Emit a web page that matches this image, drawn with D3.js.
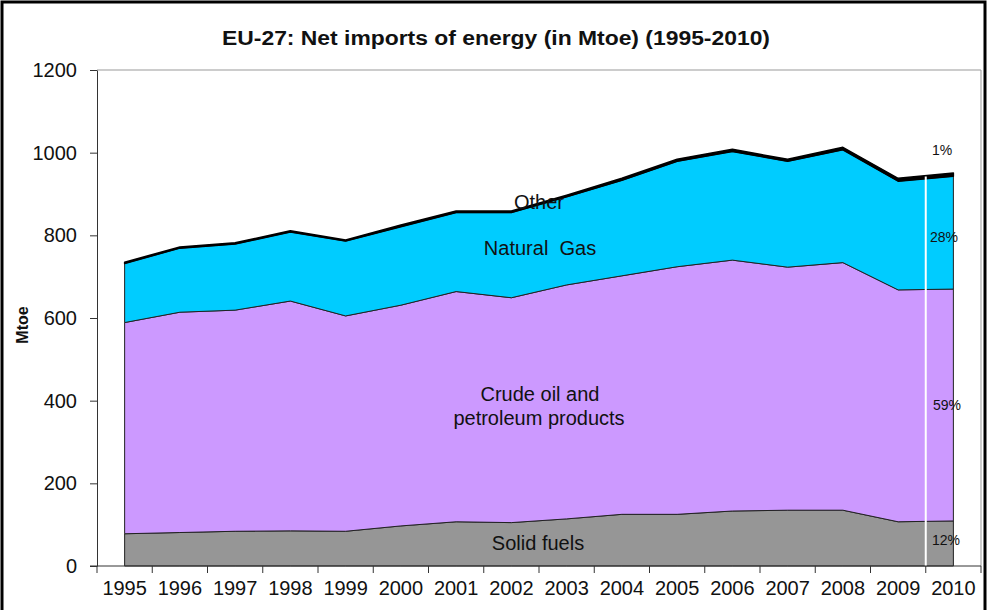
<!DOCTYPE html>
<html>
<head>
<meta charset="utf-8">
<script src="https://cdn.jsdelivr.net/npm/d3@7"></script>
<style>
  body { margin: 0; background: #fff; }
  svg text { font-family: "Liberation Sans", Arial, sans-serif; }
</style>
</head>
<body>
<div id="chart"></div>
<script>
var years = ["1995", "1996", "1997", "1998", "1999", "2000", "2001", "2002",
             "2003", "2004", "2005", "2006", "2007", "2008", "2009", "2010"];
var solidFuels = [78, 81, 84, 85, 84, 97, 107, 105, 114, 125, 125, 133, 135, 135, 107, 109];
var crudeOil = [511, 533, 535, 556, 521, 534, 557, 544, 566, 577, 599, 607, 588, 599, 561, 561];
var naturalGas = [143, 155, 160, 167, 181, 190, 191, 206, 213, 231, 255, 263, 256, 273, 263, 273];
var other = [3, 3, 3, 3, 3, 4, 4, 4, 4, 5, 5, 5, 5, 6, 7, 8];
var yTicks = [0, 200, 400, 600, 800, 1000, 1200];
var shares2010 = ["12%", "59%", "28%", "1%"];

var W = 987, H = 610;
var plotLeft = 97, plotRight = 981, plotTop = 70, plotBottom = 566;

var svg = d3.select("#chart").append("svg")
    .attr("width", W)
    .attr("height", H);

// outer frame
svg.append("rect")
    .attr("x", 2).attr("y", 2)
    .attr("width", W - 4).attr("height", H + 20)
    .attr("fill", "none")
    .attr("stroke", "#000")
    .attr("stroke-width", 3);

svg.append("text")
    .attr("x", 496).attr("y", 45)
    .attr("text-anchor", "middle")
    .attr("font-size", 20)
    .attr("font-weight", "bold")
    .attr("fill", "#111")
    .attr("textLength", 548)
    .attr("lengthAdjust", "spacingAndGlyphs")
    .text("EU-27: Net imports of energy (in Mtoe) (1995-2010)");

var x = d3.scaleBand().domain(years).range([plotLeft, plotRight]).padding(0);
var y = d3.scaleLinear().domain([0, 1200]).range([plotBottom, plotTop]);
var cx = function (yr) { return x(yr) + x.bandwidth() / 2; };

// plot area border (top and right)
svg.append("path")
    .attr("d", "M" + plotLeft + "," + plotTop + "H" + plotRight + "V" + plotBottom)
    .attr("fill", "none")
    .attr("stroke", "#999")
    .attr("stroke-width", 1);

var table = years.map(function (yr, i) {
    return { year: yr, solid: solidFuels[i], oil: crudeOil[i], gas: naturalGas[i], other: other[i] };
});
var keys = ["solid", "oil", "gas", "other"];
var colors = { solid: "#969696", oil: "#cc99ff", gas: "#00ccff", other: "#000" };
var series = d3.stack().keys(keys)(table);

var area = d3.area()
    .x(function (d) { return cx(d.data.year); })
    .y0(function (d) { return y(d[0]); })
    .y1(function (d) { return y(d[1]); });

svg.selectAll("path.layer")
    .data(series)
    .enter().append("path")
    .attr("class", "layer")
    .attr("d", area)
    .attr("fill", function (d) { return colors[d.key]; })
    .attr("stroke", function (d) { return d.key === "other" ? "#000" : "#222"; })
    .attr("stroke-width", function (d) { return d.key === "other" ? 1.5 : 1; })
    .attr("stroke-linejoin", "round");

// white separator between 2009 and 2010
var sepX = x("2010");
var i9 = years.indexOf("2009"), i10 = years.indexOf("2010");
var t = (sepX - cx("2009")) / (cx("2010") - cx("2009"));
var topVal = series[3][i9][1] + (series[3][i10][1] - series[3][i9][1]) * t;
svg.append("line")
    .attr("x1", sepX).attr("x2", sepX)
    .attr("y1", y(topVal) + 1).attr("y2", plotBottom)
    .attr("stroke", "#fff")
    .attr("stroke-width", 2);

// axes
var yAxis = svg.append("g")
    .attr("transform", "translate(" + plotLeft + ",0)")
    .call(d3.axisLeft(y).tickValues(yTicks).tickFormat(d3.format("d"))
        .tickSize(7).tickPadding(13).tickSizeOuter(0));
yAxis.select(".domain").attr("stroke", "#333");
yAxis.selectAll(".tick line").attr("stroke", "#333");
yAxis.selectAll("text")
    .attr("font-size", 20)
    .attr("fill", "#111")
    .attr("font-family", "Liberation Sans, Arial, sans-serif");

var xAxis = svg.append("g")
    .attr("transform", "translate(0," + plotBottom + ")");
xAxis.append("line")
    .attr("x1", plotLeft - 7).attr("x2", plotRight)
    .attr("stroke", "#333");
var boundaries = years.map(function (yr) { return x(yr); }).concat([plotRight]);
xAxis.selectAll("line.tick")
    .data(boundaries)
    .enter().append("line")
    .attr("class", "tick")
    .attr("x1", function (d) { return d; })
    .attr("x2", function (d) { return d; })
    .attr("y1", 0).attr("y2", 7)
    .attr("stroke", "#333");
xAxis.selectAll("text")
    .data(years)
    .enter().append("text")
    .attr("x", cx)
    .attr("y", 29)
    .attr("text-anchor", "middle")
    .attr("font-size", 20)
    .attr("fill", "#111")
    .text(function (d) { return d; });

svg.append("text")
    .attr("transform", "translate(28,325) rotate(-90)")
    .attr("text-anchor", "middle")
    .attr("font-size", 16)
    .attr("font-weight", "bold")
    .attr("fill", "#111")
    .text("Mtoe");

// layer labels
var labels = [
    { t: "Other", x: 539, y: 209 },
    { t: "Natural  Gas", x: 540, y: 255 },
    { t: "Crude oil and", x: 540, y: 401 },
    { t: "petroleum products", x: 539, y: 425 },
    { t: "Solid fuels", x: 538, y: 550 }
];
svg.selectAll("text.lab")
    .data(labels)
    .enter().append("text")
    .attr("class", "lab")
    .attr("x", function (d) { return d.x; })
    .attr("y", function (d) { return d.y; })
    .attr("text-anchor", "middle")
    .attr("font-size", 20)
    .attr("fill", "#111")
    .style("white-space", "pre")
    .text(function (d) { return d.t; });

// 2010 shares
var shareY = [545, 410, 242, 155];
svg.selectAll("text.share")
    .data(shares2010)
    .enter().append("text")
    .attr("class", "share")
    .attr("x", function (d, i) { return [946, 947, 944, 942][i]; })
    .attr("y", function (d, i) { return shareY[i]; })
    .attr("text-anchor", "middle")
    .attr("font-size", 14)
    .attr("fill", "#111")
    .text(function (d) { return d; });
</script>
</body>
</html>
